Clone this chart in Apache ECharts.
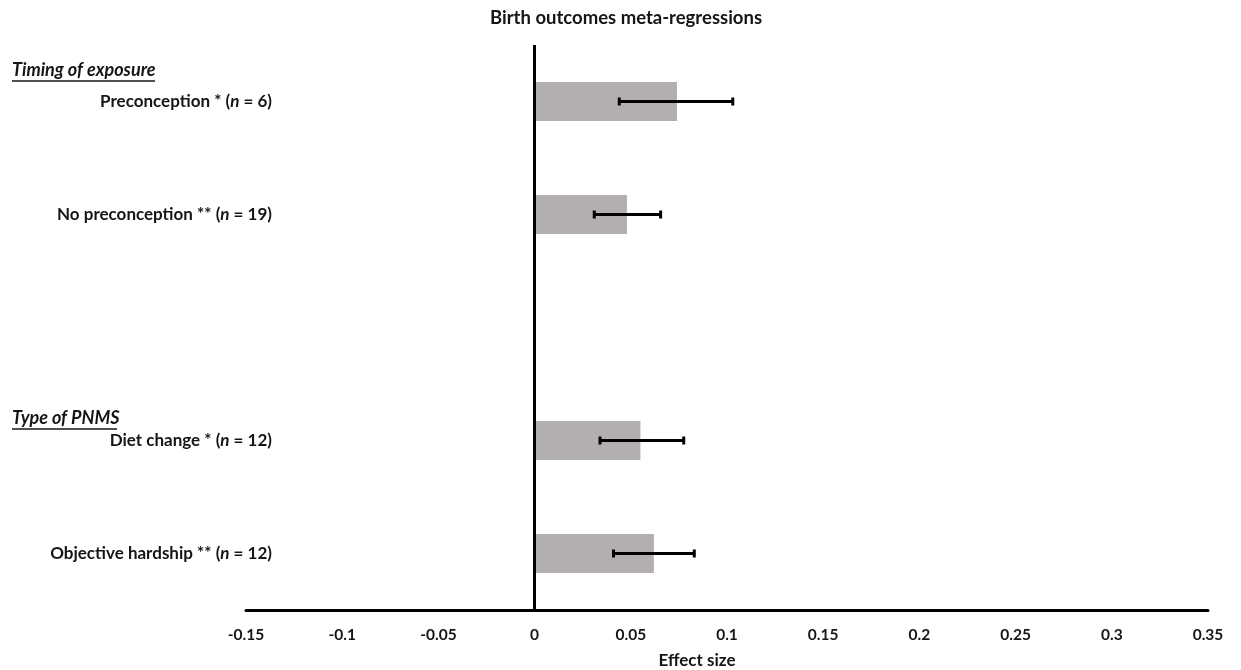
<!DOCTYPE html>
<html>
<head>
<meta charset="utf-8">
<script src="https://cdn.jsdelivr.net/npm/echarts@6/dist/echarts.min.js"></script>
<style>
html,body{margin:0;padding:0;background:#fff;}
#chart{width:1241px;height:670px;}
</style>
</head>
<body>
<div id="chart"></div>
<script>
// ---- data ----
var categoryNames = ['Preconception *', 'No preconception **', '', 'Diet change *', 'Objective hardship **'];
var studyCounts = [6, 19, null, 12, 12];
var effectSizes = [0.074, 0.048, null, 0.055, 0.062];
var lowerCI = [0.044, 0.031, null, 0.034, 0.041];
var upperCI = [0.103, 0.0655, null, 0.0775, 0.083];
var xTicks = { min: -0.15, max: 0.35, interval: 0.05 };
var groupHeaders = ['Timing of exposure', 'Type of PNMS'];

var FONT = 'Lato';
var TXT = '#151515';
var chart = echarts.init(document.getElementById('chart'));

var errData = [];
for (var i = 0; i < categoryNames.length; i++) {
  if (effectSizes[i] != null) errData.push([i, lowerCI[i], upperCI[i]]);
}

function header(text, x, y, w) {
  return {
    type: 'group',
    children: [
      { type: 'text', left: x, top: y, style: { text: text, font: 'italic bold 18px ' + FONT, fill: TXT } },
      { type: 'line', shape: { x1: x, y1: y + 20, x2: x + w, y2: y + 20 }, style: { stroke: TXT, lineWidth: 1.4 } }
    ]
  };
}

var option = {
  backgroundColor: '#fff',
  animation: false,
  title: [
    { text: 'Birth outcomes meta-regressions', left: 621, top: 4, textAlign: 'center',
      textStyle: { fontFamily: FONT, fontWeight: 'bold', fontSize: 18.5, color: TXT } },
    { text: 'Effect size', left: 692, top: 647, textAlign: 'center',
      textStyle: { fontFamily: FONT, fontWeight: 'bold', fontSize: 17, color: TXT } }
  ],
  grid: { left: 246, right: 33, top: 45, bottom: 60, containLabel: false },
  xAxis: {
    type: 'value', min: xTicks.min, max: xTicks.max, interval: xTicks.interval,
    axisLine: { show: true, onZero: false, lineStyle: { color: '#000', width: 3 } },
    axisTick: { show: false },
    splitLine: { show: false },
    axisLabel: {
      margin: 17, fontFamily: FONT, fontWeight: 'bold', fontSize: 15.5, color: TXT,
      formatter: function (v) { return String(parseFloat(v.toFixed(2))); }
    }
  },
  yAxis: {
    type: 'category', inverse: true, data: categoryNames,
    axisLine: { show: false }, axisTick: { show: false }, splitLine: { show: false },
    axisLabel: {
      margin: -26, fontFamily: FONT, fontWeight: 'bold', fontSize: 17, color: TXT, align: 'right',
      formatter: function (v, idx) {
        if (!v) return '';
        return v + ' ({i|n} = ' + studyCounts[idx] + ')';
      },
      rich: { i: { fontFamily: FONT, fontWeight: 'bold', fontStyle: 'italic', fontSize: 17, color: TXT } }
    }
  },
  graphic: [
    header(groupHeaders[0], 12, 61, 143),
    header(groupHeaders[1], 12, 409, 105)
  ],
  series: [
    {
      type: 'bar', data: effectSizes, barWidth: 39,
      itemStyle: { color: '#b3afae' },
      markLine: {
        silent: true, symbol: ['none', 'none'], label: { show: false },
        lineStyle: { color: '#000', width: 3, type: 'solid' },
        data: [{ xAxis: 0 }]
      },
      z: 2
    },
    {
      type: 'custom', data: errData, z: 5,
      renderItem: function (params, api) {
        var idx = api.value(0);
        var p1 = api.coord([api.value(1), idx]);
        var p2 = api.coord([api.value(2), idx]);
        var h = 4;
        var st = { stroke: '#000', lineWidth: 3 };
        return {
          type: 'group',
          children: [
            { type: 'line', shape: { x1: p1[0], y1: p1[1], x2: p2[0], y2: p2[1] }, style: st },
            { type: 'line', shape: { x1: p1[0], y1: p1[1] - h, x2: p1[0], y2: p1[1] + h }, style: st },
            { type: 'line', shape: { x1: p2[0], y1: p2[1] - h, x2: p2[0], y2: p2[1] + h }, style: st }
          ]
        };
      }
    }
  ]
};
chart.setOption(option);
</script>
</body>
</html>
